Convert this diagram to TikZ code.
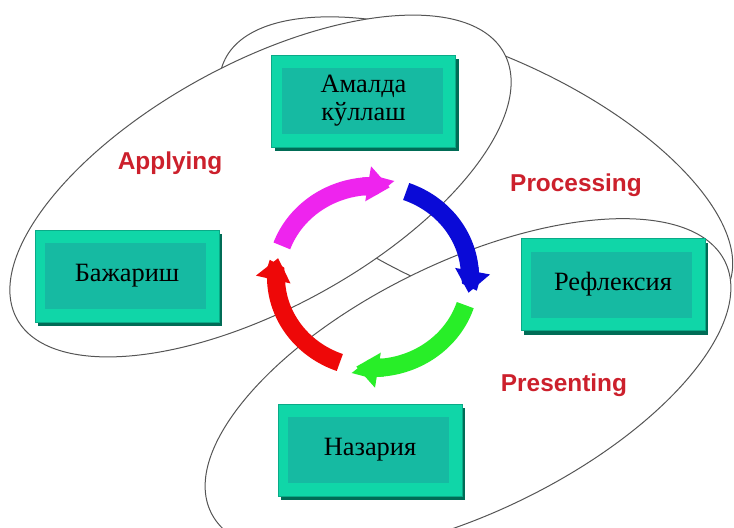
\documentclass[tikz,border=0pt]{standalone}
\usepackage{fontspec}
\setmainfont{Liberation Serif}
\newfontfamily\labelfont{Liberation Sans}
\usetikzlibrary{arrows.meta,shadows}

\definecolor{boxouter}{RGB}{16,214,168}
\definecolor{boxinner}{RGB}{22,186,162}
\definecolor{boxedge}{RGB}{10,170,135}
\definecolor{boxshade}{RGB}{0,108,86}
\definecolor{stagered}{RGB}{204,32,44}
\definecolor{loopline}{RGB}{85,85,85}
\definecolor{loopmagenta}{RGB}{238,36,238}
\definecolor{loopblue}{RGB}{10,10,215}
\definecolor{loopgreen}{RGB}{40,238,40}
\definecolor{loopred}{RGB}{238,8,8}

\tikzset{
	loop line/.style={draw=loopline, fill=white, line width=0.5pt},
	loop shaft/.style={line width=9pt},
	loop tip/.style={line width=9pt, -{Triangle[length=11pt, width=17pt]}},
	stage label/.style={font=\labelfont\bfseries\fontsize{12.2}{14}\selectfont, text=stagered, inner sep=1pt},
	stagebox/.style={rectangle, minimum width=92pt, minimum height=46pt, inner sep=0pt,
		fill=boxouter, draw=boxedge, line width=0.4pt, align=center,
		font=\fontsize{13.2}{14}\selectfont,
		drop shadow={shadow xshift=1.5pt, shadow yshift=-2pt, fill=boxshade, opacity=1},
		path picture={\fill[boxinner] ([shift={(5pt,-6.5pt)}]path picture bounding box.north west)
			rectangle ([shift={(-6.5pt,6.5pt)}]path picture bounding box.south east);}}
}

\begin{document}
\begin{tikzpicture}[x=0.5pt, y=0.5pt]
	
	\useasboundingbox (0,0) rectangle (734,527);
	
	% the three loops, processing one lies under the others
	\filldraw[loop line, rotate around={-24.1:(476,353)}] (476,353) ellipse (276 and 120);
	\filldraw[loop line, rotate around={28.6:(260.5,341)}] (260.5,341) ellipse (277.5 and 122.5);
	\filldraw[loop line, rotate around={26:(468,140)}] (468,140) ellipse (286 and 125);
	
	% ring of arrows: shaft first, then a short piece carrying the tip
	\coordinate (ring) at (373,250);
	\foreach \col/\from/\to [evaluate=\to as \tipfrom using \to+16, evaluate=\to as \shaftto using \to+13]
		in {loopmagenta/160/80, loopblue/70/-10, loopgreen/-18/-100, loopred/-110/-192}
	{
		\draw[loop shaft, draw=\col] ([shift={(\from:97 and 91)}]ring) arc[start angle=\from, end angle=\shaftto, x radius=97, y radius=91];
		\draw[loop tip, draw=\col, fill=\col] ([shift={(\tipfrom:97 and 91)}]ring) arc[start angle=\tipfrom, end angle=\to, x radius=97, y radius=91];
	}
	
	\node[stagebox] (amalda) at (363.5,426) {Амалда\\кўллаш};
	\node[stagebox] (bajarish) at (127,251) {Бажариш};
	\node[stagebox] (refleksiya) at (613,242.5) {Рефлексия};
	\node[stagebox] (nazariya) at (370,77) {Назария};
	
	\node[stage label] (applying) at (170,364) {Applying};
	\node[stage label] (processing) at (576,342) {Processing};
	\node[stage label] (presenting) at (564,142) {Presenting};
	
\end{tikzpicture}
\end{document}
